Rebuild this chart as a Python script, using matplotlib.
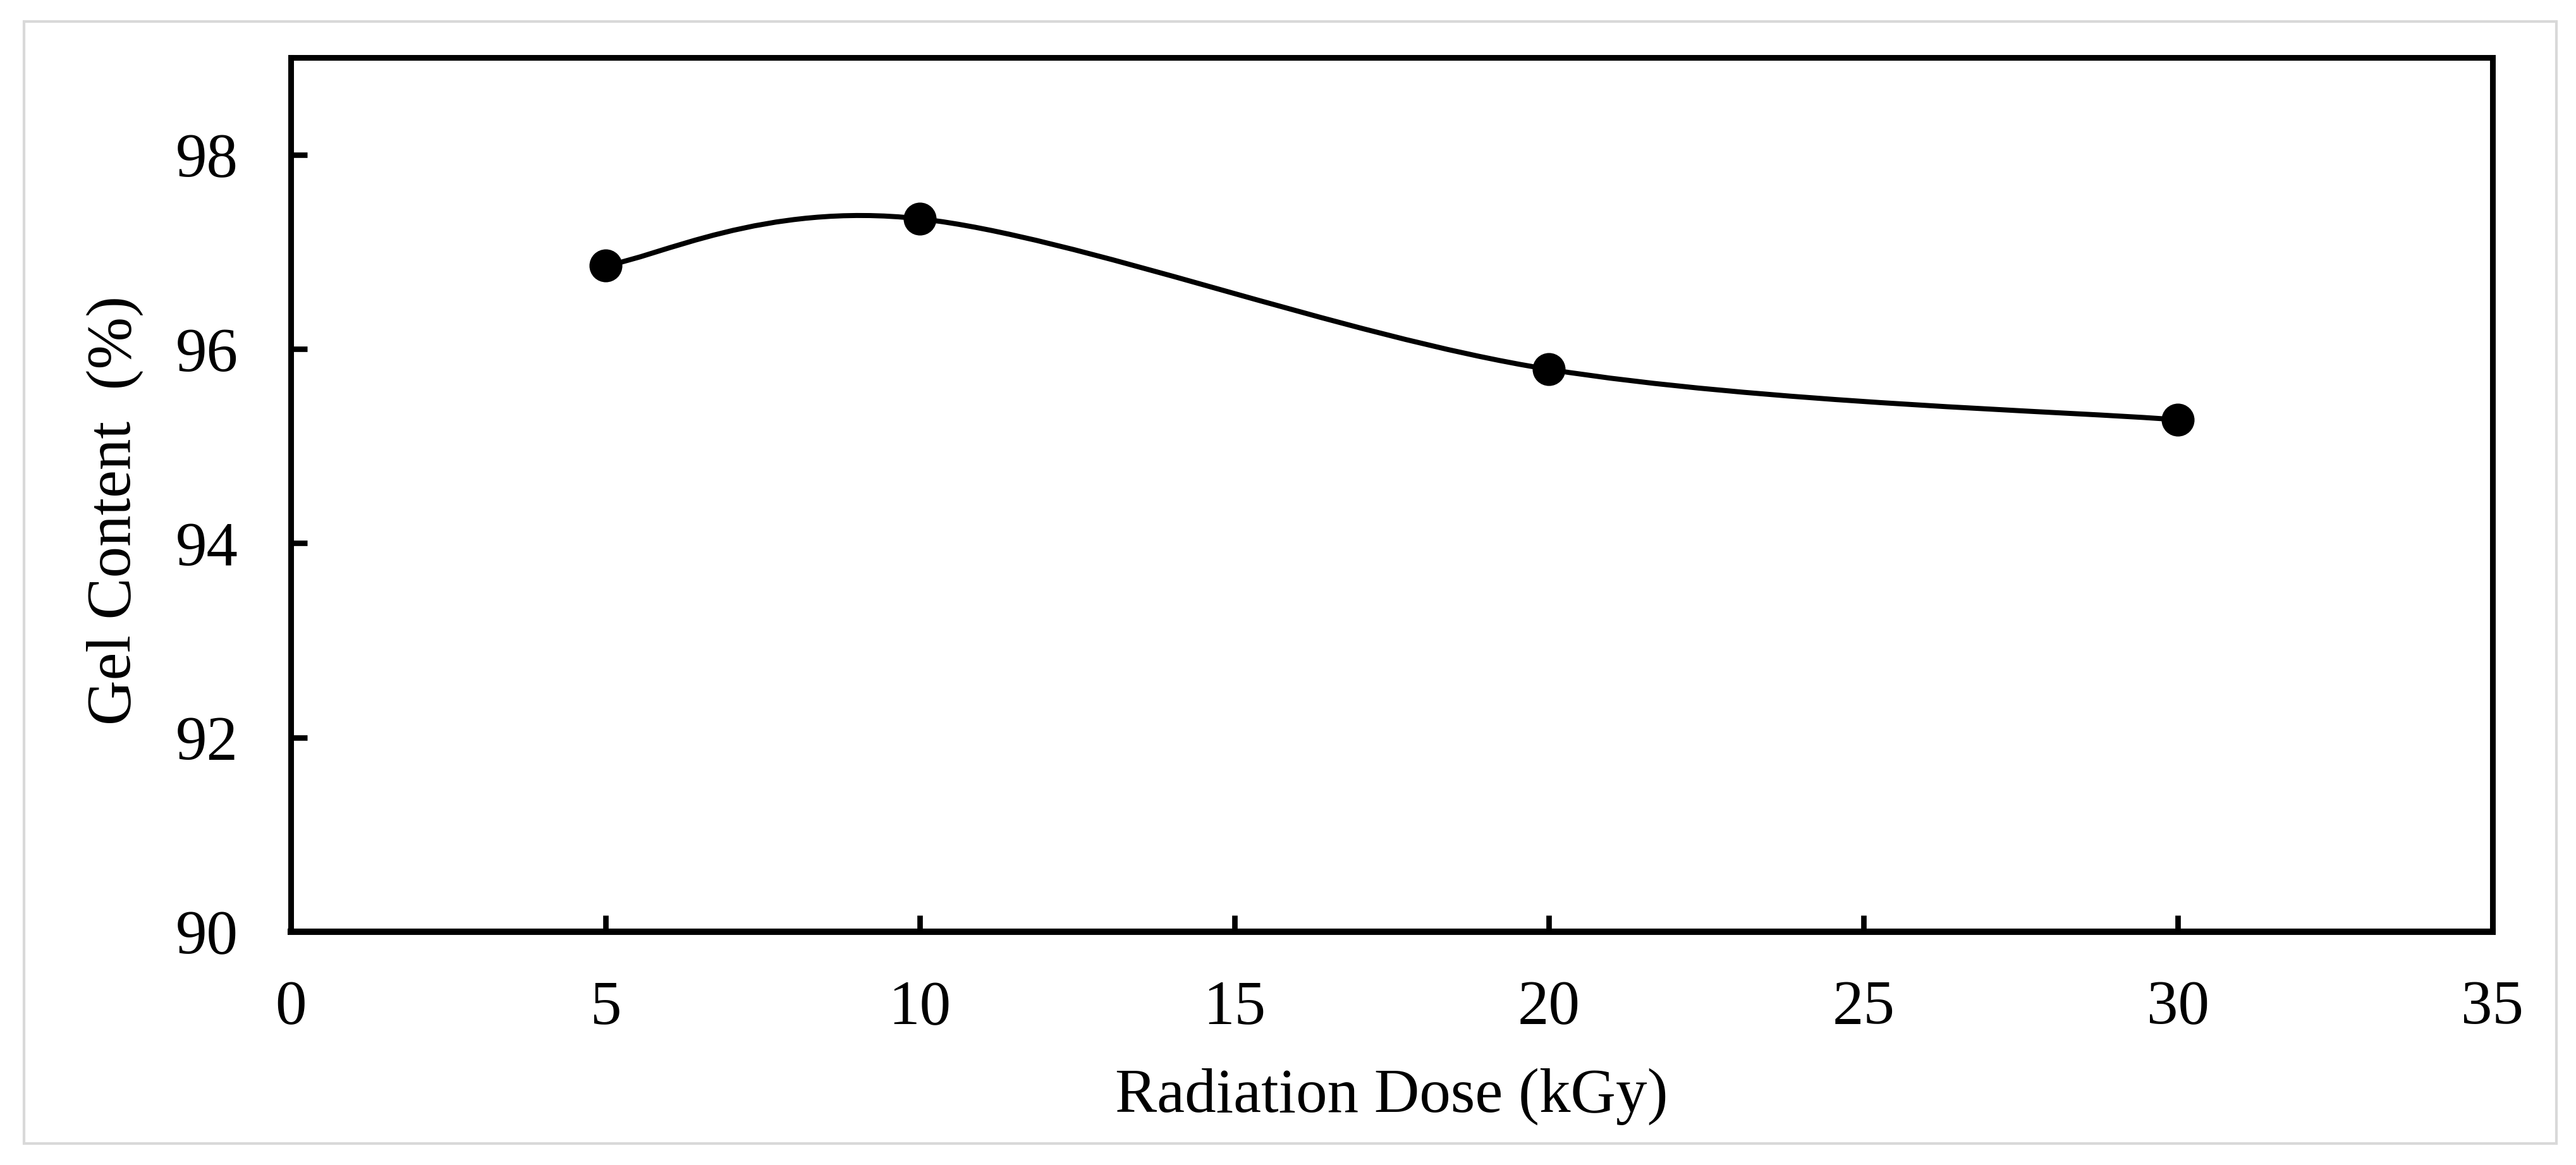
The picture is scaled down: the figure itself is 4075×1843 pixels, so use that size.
import numpy as np
import matplotlib.pyplot as plt
from matplotlib.path import Path
from matplotlib.patches import PathPatch, Rectangle

# Datos: contenido de gel frente a dosis de radiación
dose = [5, 10, 20, 30]
gel = [96.86, 97.34, 95.79, 95.27]

x_ticks = [0, 5, 10, 15, 20, 25, 30, 35]
y_ticks = [90, 92, 94, 96, 98]

plt.rcParams['font.family'] = ['Liberation Serif', 'DejaVu Serif']

fig = plt.figure(figsize=(16.3, 7.372), dpi=250)
ax = fig.add_axes([0.1129, 0.2002, 0.8547, 0.7504])

# Línea suavizada (estilo Excel, Bezier Catmull-Rom)
pts = np.column_stack([dose, gel]).astype(float)
n = len(pts)
verts = [pts[0]]
codes = [Path.MOVETO]
for i in range(n - 1):
    p0 = pts[max(i - 1, 0)]
    p1 = pts[i]
    p2 = pts[i + 1]
    p3 = pts[min(i + 2, n - 1)]
    c1 = p1 + (p2 - p0) / 6.0
    c2 = p2 - (p3 - p1) / 6.0
    verts += [c1, c2, p2]
    codes += [Path.CURVE4] * 3
curve = PathPatch(Path(verts, codes), facecolor='none', edgecolor='black',
                  linewidth=2.3, zorder=2)
ax.add_patch(curve)

ax.plot(dose, gel, linestyle='none', marker='o', markersize=14,
        color='black', zorder=3)

ax.set_xlim(0, 35)
ax.set_ylim(90, 99)
ax.set_xticks(x_ticks)
ax.set_yticks(y_ticks)

for side in ['left', 'right', 'top']:
    ax.spines[side].set_linewidth(2.6)
ax.spines['bottom'].set_linewidth(2.9)

ax.tick_params(axis='both', direction='in', length=7.5, width=2.5,
               labelsize=28.5, color='black')
ax.tick_params(axis='y', pad=24)
ax.tick_params(axis='x', pad=22)

ax.set_xlabel('Radiation Dose (kGy)', fontsize=28.5)
ax.set_ylabel('Gel Content  (%)', fontsize=28.5)
ax.xaxis.label.set_va('center')
ax.yaxis.label.set_va('center')
ax.xaxis.set_label_coords(0.5, -0.1887)
ax.yaxis.set_label_coords(-0.0798, 0.482)

# Marco gris exterior
frame = Rectangle((0.0093, 0.0185), 0.9831, 0.9631, transform=fig.transFigure,
                  facecolor='none', edgecolor='#d9d9d9', linewidth=1.2)
fig.add_artist(frame)

fig.savefig('out.png', dpi=250)
